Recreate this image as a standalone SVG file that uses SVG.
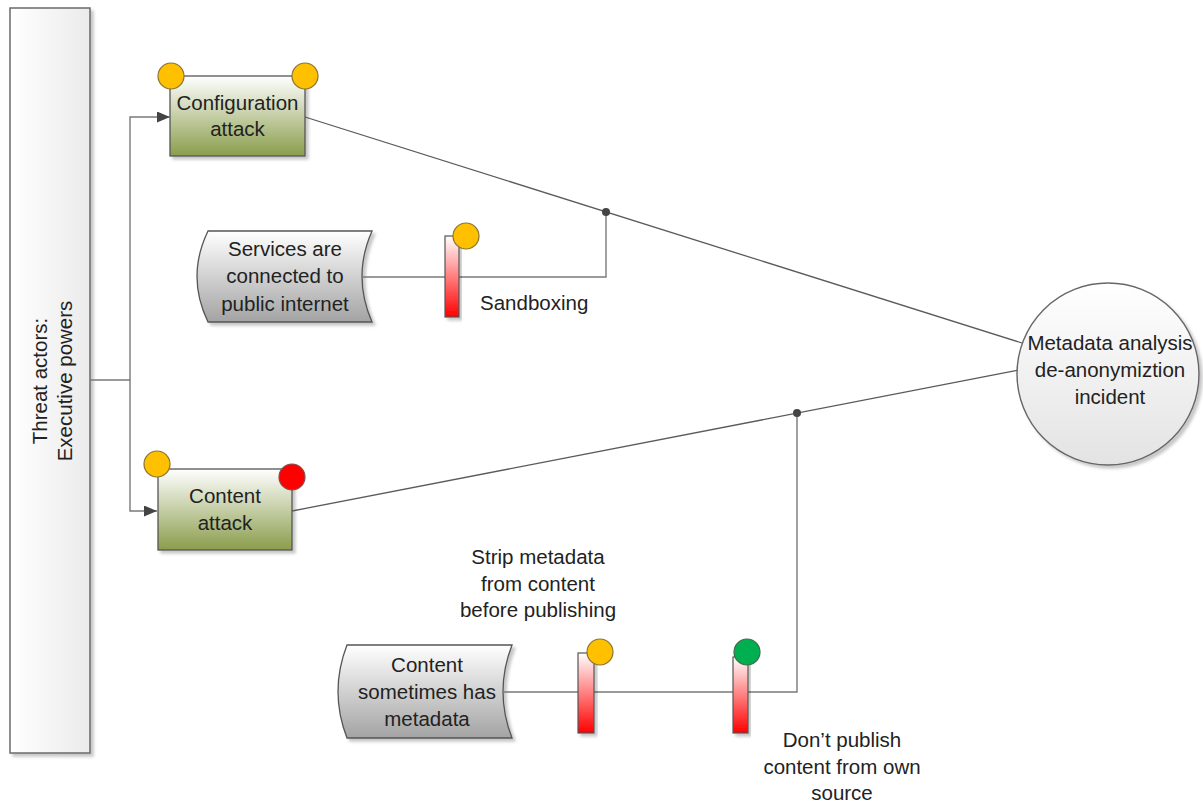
<svg xmlns="http://www.w3.org/2000/svg" width="1203" height="803" viewBox="0 0 1203 803">
  <style>
    text { font-family: "Liberation Sans", Arial, sans-serif; font-size: 20.5px; fill: #222; }
    .c { text-anchor: middle; }
    .edge { fill: none; stroke: #7a7a7a; stroke-width: 1.4; }
    .diag { fill: none; stroke: #5a5a5a; stroke-width: 1.3; }
    .box { stroke: #555; stroke-width: 1.3; }
    .bar { fill: url(#barFill); stroke: #555; stroke-width: 1.2; }
    .amber { fill: #ffc000; stroke: #8a7433; stroke-width: 1.2; }
    .red { fill: #ff0000; stroke: #8a4a4a; stroke-width: 1.2; }
    .green { fill: #00b050; stroke: #3f6b4a; stroke-width: 1.2; }
    .dot { fill: #444; }
  </style>
  <defs>
    <linearGradient id="actorFill" x1="0" y1="0" x2="1" y2="0">
      <stop offset="0" stop-color="#ffffff"/>
      <stop offset="1" stop-color="#ebebeb"/>
    </linearGradient>
    <linearGradient id="attackFill" x1="0" y1="0" x2="0" y2="1">
      <stop offset="0" stop-color="#ffffff"/>
      <stop offset="1" stop-color="#8a9d4c"/>
    </linearGradient>
    <linearGradient id="dataFill" x1="0" y1="0" x2="0" y2="1">
      <stop offset="0" stop-color="#ffffff"/>
      <stop offset="1" stop-color="#a3a3a3"/>
    </linearGradient>
    <linearGradient id="incidentFill" x1="0" y1="0" x2="0" y2="1">
      <stop offset="0" stop-color="#ffffff"/>
      <stop offset="1" stop-color="#e3e3e3"/>
    </linearGradient>
    <linearGradient id="barFill" x1="0" y1="0" x2="0" y2="1">
      <stop offset="0" stop-color="#ffffff"/>
      <stop offset="1" stop-color="#ff0000"/>
    </linearGradient>
    <filter id="shadow" x="-10%" y="-10%" width="130%" height="130%">
      <feDropShadow dx="3" dy="3" stdDeviation="1.5" flood-color="#000" flood-opacity="0.22"/>
    </filter>
    <marker id="arrow" markerWidth="13" markerHeight="11" refX="13" refY="5.5" orient="auto" markerUnits="userSpaceOnUse">
      <path d="M0,0 L13,5.5 L0,11 Z" fill="#444"/>
    </marker>
  </defs>

  <!-- threat actor lane -->
  <g id="threat-actors">
    <rect x="10" y="8" width="80" height="745" fill="url(#actorFill)" stroke="#6a6a6a" stroke-width="1.5" filter="url(#shadow)"/>
    <text class="c" transform="rotate(-90)" x="-381" y="47">Threat actors:</text>
    <text class="c" transform="rotate(-90)" x="-381" y="72">Executive powers</text>
  </g>

  <!-- attacks -->
  <g id="configuration-attack">
    <rect class="box" x="170" y="76" width="135" height="80" fill="url(#attackFill)" filter="url(#shadow)"/>
    <circle class="amber" cx="171" cy="76" r="13"/>
    <circle class="amber" cx="305" cy="76" r="13"/>
    <text class="c" x="237.5" y="110">Configuration</text>
    <text class="c" x="237.5" y="136">attack</text>
  </g>

  <g id="content-attack">
    <rect class="box" x="158" y="469" width="134" height="81" fill="url(#attackFill)" filter="url(#shadow)"/>
    <circle class="amber" cx="157" cy="464" r="13"/>
    <circle class="red" cx="292" cy="477" r="13"/>
    <text class="c" x="225" y="503">Content</text>
    <text class="c" x="225" y="530">attack</text>
  </g>

  <!-- vulnerabilities -->
  <g id="services-connected">
    <path class="box" d="M208,231 H372 Q352,276.5 372,322 H208 Q186,276.5 208,231 Z" fill="url(#dataFill)" filter="url(#shadow)"/>
    <text class="c" x="285" y="256">Services are</text>
    <text class="c" x="285" y="283">connected to</text>
    <text class="c" x="285" y="311">public internet</text>
  </g>

  <g id="content-metadata">
    <path class="box" d="M347,645 H512 Q494,691.5 512,738 H347 Q329,691.5 347,645 Z" fill="url(#dataFill)" filter="url(#shadow)"/>
    <text class="c" x="427" y="672">Content</text>
    <text class="c" x="427" y="699">sometimes has</text>
    <text class="c" x="427" y="726">metadata</text>
  </g>

  <!-- incident -->
  <g id="incident">
    <circle cx="1108" cy="374" r="91" fill="url(#incidentFill)" stroke="#666" stroke-width="1.4" filter="url(#shadow)"/>
    <text class="c" x="1110" y="350">Metadata analysis</text>
    <text class="c" x="1110" y="377">de-anonymiztion</text>
    <text class="c" x="1110" y="404">incident</text>
  </g>

  <!-- connectors -->
  <g id="connectors">
    <path class="edge" d="M90,380 H130 V117 H170" marker-end="url(#arrow)"/>
    <path class="edge" d="M130,380 V511 H157" marker-end="url(#arrow)"/>
    <path class="edge" d="M362,277 H606 V212"/>
    <path class="edge" d="M503,692 H797 V413"/>
    <path class="diag" d="M305,117 L1022,343"/>
    <path class="diag" d="M292,511 L1017,370.4"/>
    <circle class="dot" cx="606" cy="212" r="4"/>
    <circle class="dot" cx="797" cy="413" r="4"/>
  </g>

  <!-- controls -->
  <g id="sandboxing">
    <rect class="bar" x="445" y="236" width="14" height="81" filter="url(#shadow)"/>
    <circle class="amber" cx="466" cy="236" r="13"/>
    <text x="480" y="310">Sandboxing</text>
  </g>

  <g id="strip-metadata">
    <rect class="bar" x="578" y="653" width="16" height="80" filter="url(#shadow)"/>
    <circle class="amber" cx="600" cy="652" r="13"/>
    <text class="c" x="538" y="564">Strip metadata</text>
    <text class="c" x="538" y="591">from content</text>
    <text class="c" x="538" y="617">before publishing</text>
  </g>

  <g id="dont-publish">
    <rect class="bar" x="733" y="657" width="15" height="76" filter="url(#shadow)"/>
    <circle class="green" cx="747" cy="652" r="13"/>
    <text class="c" x="842" y="747">Don’t publish</text>
    <text class="c" x="842" y="774">content from own</text>
    <text class="c" x="842" y="800">source</text>
  </g>
</svg>
